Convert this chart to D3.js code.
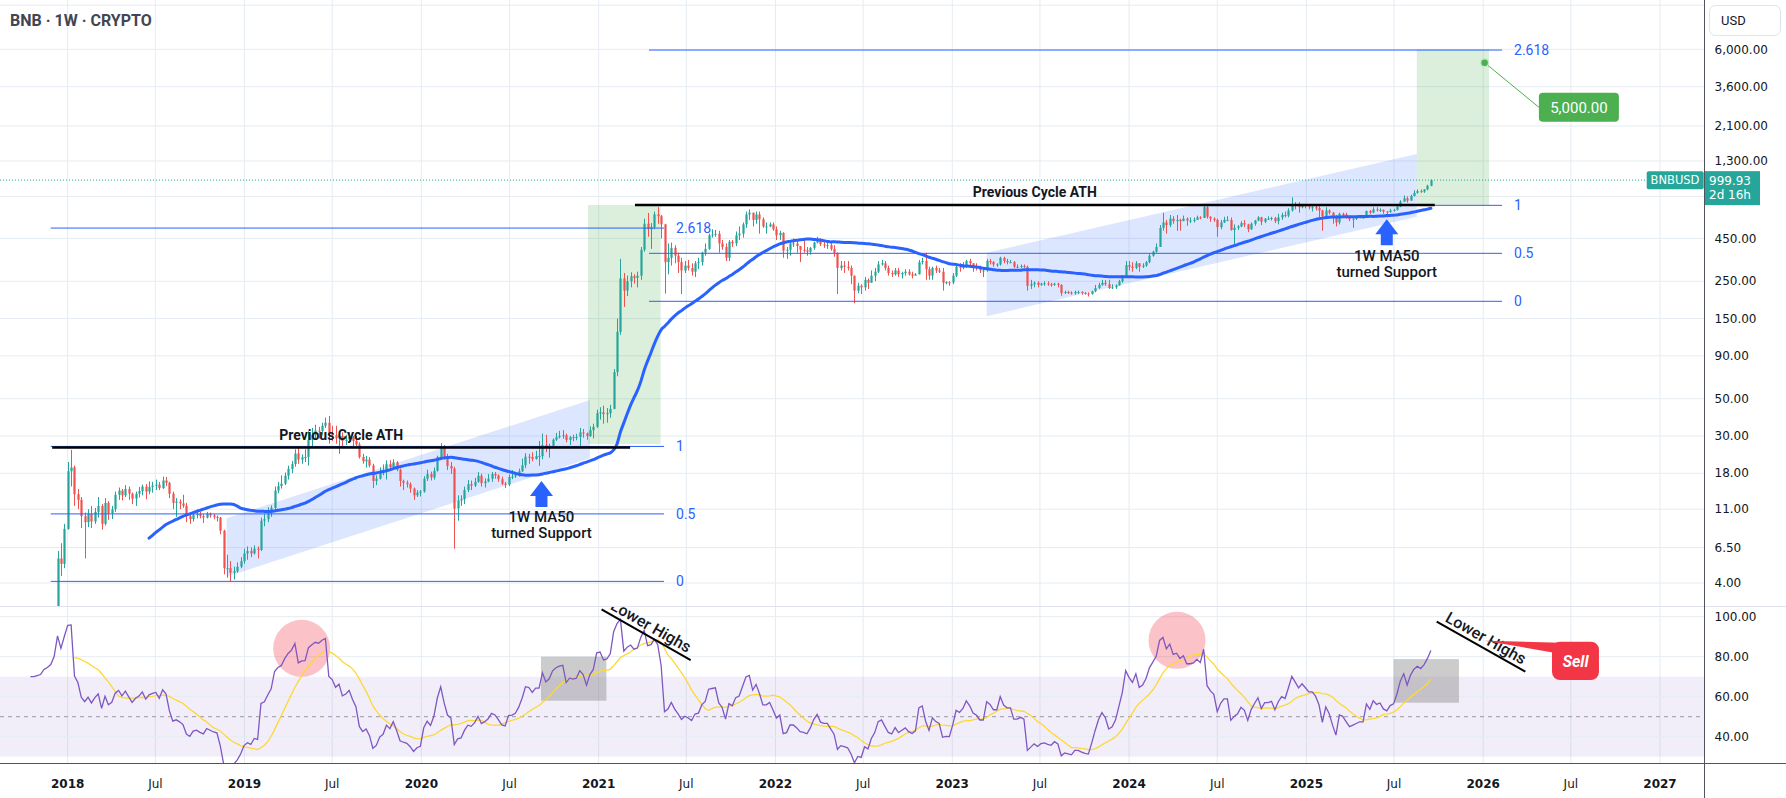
<!DOCTYPE html>
<html lang="en">
<head>
<meta charset="UTF-8" />
<title>BNB 1W</title>
<script src="https://d3js.org/d3.v7.min.js"></script>
<style>
  html, body { margin: 0; padding: 0; background: #ffffff; }
  svg { display: block; font-family: Roboto, "Noto Sans", sans-serif; }
  .ax { font-family: "DejaVu Sans", sans-serif; font-size: 12px; fill: #131722; }
</style>
</head>
<body>
<svg id="chart" width="1786" height="798"></svg>
<script>
// ---------- data (weekly bars, open = previous close) ----------
var firstWeek = "2017-07-10";
var firstOpen = 0.12;
var closes = [
  // 2017
  0.16,0.18,0.24,0.34,0.95,1.75,1.6,1.85,1.1,1.15,1.3,1.45,1.55,1.6,1.5,1.5,1.55,1.6,1.85,1.95,2.1,2.6,5.6,5.2,8.4,
  // 2018
  18.5,19.5,13.5,12.5,10.0,9.2,10.3,9.3,10.6,11.5,9.0,12.0,10.4,11.0,13.4,14.2,13.3,14.5,13.6,12.7,13.6,14.1,15.0,14.0,14.9,15.2,15.4,14.7,16.3,15.8,13.6,12.0,12.2,11.9,11.5,10.0,9.6,10.2,10.3,10.0,9.8,10.3,10.1,9.9,9.8,8.2,4.9,4.9,4.6,4.7,5.0,5.4,6.0,
  // 2019
  6.2,6.0,6.4,6.3,9.4,9.6,10.4,11.2,14.2,15.1,15.6,17.4,19.1,20.4,23.6,21.7,22.4,22.5,28.5,30.5,32.3,32.2,34.5,36.0,30.8,30.3,29.0,30.0,28.0,28.5,29.5,28.0,26.7,22.5,21.2,21.7,20.0,16.2,16.7,18.2,18.7,20.4,19.6,20.9,18.9,16.2,15.8,15.5,14.6,13.3,13.8,14.0,
  // 2020
  16.7,17.8,17.0,18.6,22.4,25.5,22.6,19.9,19.2,11.1,12.4,12.6,14.3,15.5,15.2,16.0,17.4,15.7,16.1,16.7,17.8,17.5,16.6,15.6,15.4,17.1,17.2,17.5,18.5,20.1,22.6,22.5,21.9,22.8,22.8,26.5,25.4,26.2,28.5,29.5,30.0,30.3,28.4,29.5,29.4,29.6,31.5,31.1,30.0,32.5,34.0,41.0,
  // 2021
  41.5,40.5,41,43.5,72,125,260,220,250,268,262,270,385,550,510,525,625,610,545,325,345,395,355,325,290,310,300,285,320,325,370,390,470,475,480,420,400,345,430,420,470,480,545,625,640,580,625,585,530,530,545,510,
  // 2022
  470,485,380,385,420,420,405,385,382,375,395,425,445,415,410,410,390,370,300,310,305,300,270,220,235,230,255,245,270,285,315,320,300,280,275,290,275,280,285,275,270,275,325,330,295,270,300,290,285,245,247,246,
  // 2023
  270,305,300,310,330,320,305,300,290,290,330,325,315,315,345,330,325,325,305,305,308,305,235,240,245,238,242,243,240,238,242,238,213,216,214,212,216,216,213,211,210,218,228,238,245,240,228,230,236,250,268,312,
  // 2024
  305,300,320,305,310,325,355,375,400,520,560,540,590,570,580,570,590,575,575,580,600,595,690,605,590,580,525,560,580,580,505,520,530,555,545,510,550,575,600,565,590,590,595,570,600,620,615,660,720,705,690,710,700,
  // 2025
  690,690,680,660,610,660,640,600,560,630,625,605,585,590,595,600,600,655,640,670,660,665,650,645,660,665,695,745,780,755,805,840,860,855,880,925,999.93
];
var highs = [
  0.2,0.22,0.27,0.4,1.1,2.1,1.95,2.0,1.9,1.3,1.4,1.6,1.7,1.75,1.7,1.6,1.65,1.7,1.95,2.1,2.3,2.9,6.2,6.9,9.0,
  21,24.8,20,14.5,13,10.5,11,11.5,11.2,13,11.8,12.8,12.3,11.5,14,14.8,14.5,15.3,15,13.8,14,14.9,15.4,15.5,16.1,16,16.5,16,17.2,17.1,16,14,12.8,12.6,13.4,12,10.2,10.7,11,10.6,10.3,10.6,10.5,10.3,10.1,9.9,8.3,5.9,5.4,5.0,5.3,5.7,6.4,
  6.6,6.5,6.7,6.6,9.8,10.3,11.3,11.6,15,16,17.5,18.2,20,21.3,25,25.4,23.3,25,32,33.5,35,34,36,38.6,39.5,34.5,34.5,32,31.5,30.5,31.6,30,30,27.5,23.5,22.8,22.5,20.5,17.5,19.5,20.3,21.5,21.5,21.8,21.3,19.2,16.5,16.3,15.9,14.8,14.3,14.3,
  17.3,18.9,18.4,19.5,22.9,27.2,26.5,23.5,21,19.7,13.3,13.3,15,16.4,16.3,16.9,18.3,17.9,16.8,17.8,18.3,18.3,17.7,17.2,16,17.7,18.8,18.2,19.2,22,23.7,23.5,24,24.5,28,31,30.5,27,29,31.3,32.2,32.5,31,30,30.5,30.9,33.5,33,31.5,34.2,35.5,43,
  44.5,45.5,44,46,75,150,340,280,270,283,275,285,400,590,638,555,650,690,620,550,420,425,410,370,345,330,335,320,330,345,375,420,480,510,505,500,440,420,440,440,495,530,560,650,670,640,650,650,600,560,560,560,
  530,500,490,400,430,450,440,400,440,400,400,430,460,450,430,425,425,410,370,330,330,330,310,270,245,240,265,260,290,300,330,335,330,310,290,300,300,285,295,295,285,280,335,345,370,305,305,310,300,300,250,250,
  280,310,320,325,335,340,315,320,310,300,340,340,330,320,350,350,340,335,330,315,315,315,310,255,250,250,245,250,250,245,245,245,240,220,220,218,220,220,218,216,215,220,238,245,255,255,255,240,240,255,272,330,
  330,325,330,320,320,330,365,380,420,540,640,580,620,610,620,590,615,600,600,600,615,610,720,700,610,600,590,580,605,610,600,545,540,570,580,550,560,580,610,605,595,610,605,605,630,640,650,680,790,740,740,720,720,
  720,720,720,700,665,690,670,645,620,640,640,640,610,600,605,615,610,660,665,690,690,680,670,655,675,675,705,760,810,800,820,870,880,880,885,940,1010
];
var lows = [
  0.1,0.14,0.17,0.23,0.33,0.9,1.4,1.5,0.85,0.9,1.1,1.25,1.4,1.45,1.4,1.35,1.4,1.45,1.55,1.8,1.8,2.0,2.5,4.4,4.9,
  8.3,15,11.5,11,8.5,5.6,8.6,8.5,9,9.8,8.3,8.8,9.5,9.6,10.6,12.5,12.4,13,12.5,11.8,11.5,12.9,13.3,12.6,13.5,13.8,14.3,14.3,14.5,15.1,12.8,11,9.9,11,11.2,9.2,9,9.3,9.7,9.7,9.1,9.7,9.8,9.6,9.3,7.8,4.5,4.3,4.1,4.2,4.6,4.9,5.2,
  5.5,5.7,5.9,5.6,6.2,8.7,9.2,9.9,10.8,13.7,14.6,15.3,16.5,18,19.7,20.5,20.5,21,20,26,28.5,29,30.5,33.5,27,28,27,23.5,26,26.5,27.5,26,26,22,20.5,19.5,19.5,14.7,15.3,16.5,17.5,16.5,19,19.5,18.5,15,14.3,14.8,13.8,12.5,13,13.1,
  13.8,16.2,16.3,16.5,18.4,21.6,21.7,18.8,17.8,6.4,9.4,11.5,11.8,13.9,14.3,14.9,15.8,15,14.8,15.9,16,16.7,16,15.3,14.7,15.1,16.6,16.9,17.2,18.3,19.3,20.5,21.2,21.7,19.9,21.8,24,22.3,26,28,29,28.9,27.5,26.5,27.9,28.3,26,29.3,28.5,29.6,29,33.5,
  37.5,35.5,36,38.5,43.3,68,120,176,204,230,242,230,255,375,460,390,510,550,450,211,275,310,320,280,210,280,290,270,265,295,310,355,385,455,460,370,385,330,330,400,405,440,455,520,580,530,550,480,520,480,525,500,
  440,440,345,340,355,400,370,325,370,355,360,385,420,405,395,390,380,350,210,290,280,290,240,185,212,210,220,225,245,250,280,310,290,270,265,270,265,260,270,270,260,270,275,315,255,255,255,280,280,220,240,235,
  240,265,285,295,300,300,285,290,280,265,285,315,305,305,310,320,315,320,300,300,300,300,220,225,230,230,235,235,235,232,235,230,205,210,210,208,208,210,208,208,203,208,215,225,235,235,225,225,225,235,245,265,
  290,285,295,285,300,305,320,350,370,400,500,480,525,550,500,500,570,535,555,560,580,585,595,590,565,565,460,510,555,570,500,400,505,525,525,490,505,535,570,540,555,580,575,555,545,580,600,600,650,670,640,680,680,
  670,650,660,600,500,590,625,550,530,545,605,590,570,520,580,595,590,595,630,635,650,645,630,600,640,650,660,690,740,735,755,800,830,840,840,870,920
];

var priceTicks = [4, 6.5, 11, 18, 30, 50, 90, 150, 250, 450, 800, 1300, 2100, 3600, 6000, 11000];
var priceTicksCovered = [800, 11000];   // labels hidden behind the price tag and the USD button
var rsiTicks = [100, 80, 60, 40];
var years = [2018, 2019, 2020, 2021, 2022, 2023, 2024, 2025, 2026, 2027];
var symbol = "BNBUSD";
var lastPrice = 999.93;
var countdown = "2d 16h";

// drawings on the chart (dates / prices / RSI values)
var fibLevels = [0, 0.5, 1, 2.618];
var fibs = [
  { from: "2017-11-27", to: "2021-05-16", p0: 4.09, p1: 26.0 },
  { from: "2021-04-15", to: "2026-02-09", p0: 190, p1: 708 }
];
var athLines = [
  { from: "2017-11-30", to: "2021-03-07", price: 25.6 },
  { from: "2021-03-17", to: "2025-09-23", price: 711 }
];
var greenBoxes = [
  { from: "2020-12-10", to: "2021-05-09", lo: 26.9, hi: 711 },
  { from: "2025-08-17", to: "2026-01-13", lo: 711, hi: 6000 }
];
var channels = [
  { from: "2018-11-25", to: "2020-12-14", upper: [9.71, 49.1], lower: [4.36, 22.1] },
  { from: "2023-03-13", to: "2025-08-17", upper: [370, 1431], lower: [155, 606] }
];
var supportArrows = [
  { date: "2020-09-05", price: 16.2 },
  { date: "2025-06-16", price: 585 }
];
var target = { date: "2026-01-04", price: 5000, labelDate: "2026-04-26", labelPrice: 2715, text: "5,000.00" };
var rsiCircles = [
  { date: "2019-04-29", value: 84.2 },
  { date: "2024-04-09", value: 88.2 }
];
var rsiBoxes = [
  { from: "2020-09-04", to: "2021-01-17", hi: 80, lo: 58 },
  { from: "2025-06-30", to: "2025-11-12", hi: 78.8, lo: 57 }
];
var lowerHighs = [
  { from: "2021-01-07", to: "2021-07-10", v0: 103.7, v1: 78.3 },
  { from: "2025-09-27", to: "2026-03-29", v0: 97.5, v1: 72.5 }
];
var sell = { tipDate: "2026-01-04", tipValue: 88, from: "2026-05-23", to: "2026-08-28", hi: 87.5, lo: 68.3 };

// ---------- layout ----------
var W = 1786, plotR = 1704, priceB = 606, rsiB = 763;
var UP = "#26a69a", DOWN = "#ef5350", BLUE = "#2962ff", GRID = "#e5ecf2";
var svg = d3.select("#chart");
var D = function (s) { return new Date(s); };

var x = d3.scaleUtc().domain([D("2018-01-01"), D("2027-01-01")]).range([67.7, 1660]);
var y = d3.scaleLog().domain([4, 6000]).range([583, 49.4]);
var yr = d3.scaleLinear().domain([40, 100]).range([736.7, 616.7]);

// bars and indicators
var t0 = Date.parse(firstWeek), WEEK = 7 * 864e5;
var bars = closes.map(function (c, i) {
  var o = i ? closes[i - 1] : firstOpen;
  return { date: new Date(t0 + i * WEEK), open: o, close: c,
    high: Math.max(highs[i], o, c), low: Math.min(lows[i], o, c) };
});
var ma50 = [];
for (var i = 49; i < bars.length; i++) {
  ma50.push({ date: bars[i].date, value: d3.mean(closes.slice(i - 49, i + 1)) });
}
// RSI 14 (Wilder) and its 14 SMA
var rsi = [], ag = 0, al = 0;
for (var k = 1; k < closes.length; k++) {
  var ch = closes[k] - closes[k - 1], g = ch > 0 ? ch : 0, l = ch < 0 ? -ch : 0;
  if (k <= 14) { ag += g / 14; al += l / 14; if (k < 14) continue; }
  else { ag = (ag * 13 + g) / 14; al = (al * 13 + l) / 14; }
  rsi.push({ date: bars[k].date, value: al === 0 ? 100 : 100 - 100 / (1 + ag / al) });
}
var rsiMa = [];
for (var j = 13; j < rsi.length; j++) {
  rsiMa.push({ date: rsi[j].date, value: d3.mean(rsi.slice(j - 13, j + 1), function (d) { return d.value; }) });
}

// clips
var defs = svg.append("defs");
defs.append("clipPath").attr("id", "cp").append("rect").attr("x", 0).attr("y", 0).attr("width", plotR).attr("height", priceB);
defs.append("clipPath").attr("id", "cr").append("rect").attr("x", 0).attr("y", priceB + 0.5).attr("width", plotR).attr("height", rsiB - priceB - 0.5);

// ---------- grid ----------
var timeTicks = [];
years.forEach(function (yy) {
  timeTicks.push({ d: new Date(Date.UTC(yy, 0, 1)), label: String(yy), major: true });
  if (yy < 2027) timeTicks.push({ d: new Date(Date.UTC(yy, 6, 1)), label: "Jul", major: false });
});
var grid = svg.append("g");
grid.selectAll(".vg").data(timeTicks).join("line")
  .attr("x1", function (d) { return x(d.d); }).attr("x2", function (d) { return x(d.d); })
  .attr("y1", 0).attr("y2", rsiB).attr("stroke", GRID);
grid.selectAll(".hg").data(priceTicks).join("line")
  .attr("x1", 0).attr("x2", plotR).attr("y1", function (d) { return y(d); }).attr("y2", function (d) { return y(d); })
  .attr("stroke", GRID);

// RSI pane background
var rp = svg.append("g").attr("clip-path", "url(#cr)");
rp.append("rect").attr("x", 0).attr("width", plotR).attr("y", yr(70)).attr("height", yr(30) - yr(70)).attr("fill", "rgba(126,87,194,0.1)");
rp.selectAll(".rg").data(rsiTicks).join("line")
  .attr("x1", 0).attr("x2", plotR).attr("y1", function (d) { return yr(d); }).attr("y2", function (d) { return yr(d); })
  .attr("stroke", GRID);
rp.append("line").attr("x1", 0).attr("x2", plotR).attr("y1", yr(50)).attr("y2", yr(50))
  .attr("stroke", "#9598a1").attr("stroke-dasharray", "4,4");

// ---------- price pane fills ----------
var pp = svg.append("g").attr("clip-path", "url(#cp)");
pp.selectAll(".ch").data(channels).join("polygon")
  .attr("points", function (c) {
    return [[x(D(c.from)), y(c.upper[0])], [x(D(c.to)), y(c.upper[1])], [x(D(c.to)), y(c.lower[1])], [x(D(c.from)), y(c.lower[0])]].join(" ");
  })
  .attr("fill", "rgba(41,98,255,0.16)");
pp.selectAll(".gb").data(greenBoxes).join("rect")
  .attr("x", function (b) { return x(D(b.from)); })
  .attr("width", function (b) { return x(D(b.to)) - x(D(b.from)); })
  .attr("y", function (b) { return y(b.hi); })
  .attr("height", function (b) { return y(b.lo) - y(b.hi); })
  .attr("fill", "rgba(76,175,80,0.2)");

// candles
var cg = pp.append("g");
cg.selectAll(".wk").data(bars).join("line")
  .attr("x1", function (d) { return Math.round(x(d.date)) + 0.5; })
  .attr("x2", function (d) { return Math.round(x(d.date)) + 0.5; })
  .attr("y1", function (d) { return y(d.high); }).attr("y2", function (d) { return y(d.low); })
  .attr("stroke", function (d) { return d.close >= d.open ? UP : DOWN; }).attr("stroke-width", 1);
cg.selectAll(".bd").data(bars).join("rect")
  .attr("x", function (d) { return Math.round(x(d.date)) - 0.6; })
  .attr("width", 2.2)
  .attr("y", function (d) { return y(Math.max(d.open, d.close)); })
  .attr("height", function (d) { return Math.max(1, y(Math.min(d.open, d.close)) - y(Math.max(d.open, d.close))); })
  .attr("fill", function (d) { return d.close >= d.open ? UP : DOWN; });

// MA50
pp.append("path").datum(ma50)
  .attr("d", d3.line().curve(d3.curveMonotoneX).x(function (d) { return x(d.date); }).y(function (d) { return y(d.value); }))
  .attr("fill", "none").attr("stroke", BLUE).attr("stroke-width", 3).attr("stroke-linecap", "round");

// fib retracements
fibs.forEach(function (f) {
  fibLevels.forEach(function (lv) {
    var p = f.p0 * Math.pow(f.p1 / f.p0, lv), yy = y(p);
    pp.append("line").attr("x1", x(D(f.from))).attr("x2", x(D(f.to))).attr("y1", yy).attr("y2", yy)
      .attr("stroke", BLUE).attr("stroke-width", 1);
    pp.append("text").attr("x", x(D(f.to)) + 12).attr("y", yy).attr("dy", "0.35em")
      .attr("font-size", 14).attr("fill", BLUE).text(String(lv));
  });
});

// previous ATH lines
athLines.forEach(function (a) {
  var x1 = x(D(a.from)), x2 = x(D(a.to)), yy = y(a.price);
  pp.append("line").attr("x1", x1).attr("x2", x2).attr("y1", yy).attr("y2", yy)
    .attr("stroke", "#000").attr("stroke-width", 2.5);
  pp.append("text").attr("x", (x1 + x2) / 2).attr("y", yy - 8).attr("text-anchor", "middle")
    .attr("font-size", 14).attr("font-weight", "bold").attr("fill", "#131722").text("Previous Cycle ATH");
});

// MA50 support arrows
supportArrows.forEach(function (a) {
  var tx = x(D(a.date)), ty = y(a.price);
  pp.append("path")
    .attr("d", "M" + tx + "," + ty + "l11.5,15h-5.5v11h-12v-11h-5.5z")
    .attr("fill", BLUE);
  pp.append("text").attr("x", tx).attr("y", ty + 36).attr("dy", "0.35em").attr("text-anchor", "middle")
    .attr("font-size", 15).attr("font-weight", 500).attr("fill", "#131722").text("1W MA50");
  pp.append("text").attr("x", tx).attr("y", ty + 52).attr("dy", "0.35em").attr("text-anchor", "middle")
    .attr("font-size", 15).attr("font-weight", 500).attr("fill", "#131722").text("turned Support");
});

// target label
(function () {
  var px = x(D(target.date)), py = y(target.price);
  var lx = x(D(target.labelDate)), ly = y(target.labelPrice);
  pp.append("line").attr("x1", px).attr("y1", py).attr("x2", lx).attr("y2", ly).attr("stroke", "#4caf50").attr("stroke-width", 1);
  pp.append("circle").attr("cx", px).attr("cy", py).attr("r", 4).attr("fill", "#4caf50").attr("stroke", "#c8e6c9").attr("stroke-width", 1.5);
  pp.append("rect").attr("x", lx).attr("y", ly - 14.5).attr("width", 80).attr("height", 29).attr("rx", 4).attr("fill", "#4caf50");
  pp.append("text").attr("x", lx + 40).attr("y", ly).attr("dy", "0.36em").attr("text-anchor", "middle")
    .attr("font-size", 15).attr("fill", "#fff").text(target.text);
})();

// ---------- RSI pane ----------
rp.selectAll(".pc").data(rsiCircles).join("circle")
  .attr("cx", function (d) { return x(D(d.date)); }).attr("cy", function (d) { return yr(d.value); })
  .attr("r", 28.5).attr("fill", "rgba(242,54,69,0.3)");
rp.selectAll(".gx").data(rsiBoxes).join("rect")
  .attr("x", function (b) { return x(D(b.from)); })
  .attr("width", function (b) { return x(D(b.to)) - x(D(b.from)); })
  .attr("y", function (b) { return yr(b.hi); })
  .attr("height", function (b) { return yr(b.lo) - yr(b.hi); })
  .attr("fill", "rgba(128,128,128,0.4)");
rp.append("path").datum(rsiMa)
  .attr("d", d3.line().x(function (d) { return x(d.date); }).y(function (d) { return yr(d.value); }))
  .attr("fill", "none").attr("stroke", "#fdd835").attr("stroke-width", 1.3);
rp.append("path").datum(rsi)
  .attr("d", d3.line().x(function (d) { return x(d.date); }).y(function (d) { return yr(d.value); }))
  .attr("fill", "none").attr("stroke", "#7e57c2").attr("stroke-width", 1.3);

lowerHighs.forEach(function (h) {
  var x1 = x(D(h.from)), y1 = yr(h.v0), x2 = x(D(h.to)), y2 = yr(h.v1);
  var dx = x2 - x1, dy = y2 - y1, len = Math.sqrt(dx * dx + dy * dy);
  var cx = (x1 + x2) / 2 + 10 * dy / len, cy = (y1 + y2) / 2 - 10 * dx / len;
  rp.append("line").attr("x1", x1).attr("y1", y1).attr("x2", x2).attr("y2", y2).attr("stroke", "#000").attr("stroke-width", 2);
  rp.append("text").attr("transform", "translate(" + cx + "," + cy + ") rotate(" + (Math.atan2(dy, dx) * 180 / Math.PI) + ")")
    .attr("text-anchor", "middle").attr("dy", "0.35em").attr("font-size", 16).attr("font-weight", 500).attr("fill", "#131722").text("Lower Highs");
});

(function () {
  var tx = x(D(sell.tipDate)), ty = yr(sell.tipValue);
  var bx = x(D(sell.from)), bx2 = x(D(sell.to)), by = yr(sell.hi), by2 = yr(sell.lo);
  rp.append("path").attr("d", "M" + tx + "," + ty + "L" + (bx + 8) + "," + (by + 1) + "L" + (bx + 8) + "," + (by + 12) + "Z").attr("fill", "#f23645");
  rp.append("rect").attr("x", bx).attr("y", by).attr("width", bx2 - bx).attr("height", by2 - by).attr("rx", 8).attr("fill", "#f23645");
  rp.append("text").attr("x", (bx + bx2) / 2).attr("y", (by + by2) / 2).attr("dy", "0.36em").attr("text-anchor", "middle")
    .attr("font-size", 16).attr("font-weight", "bold").attr("font-style", "italic").attr("fill", "#fff").text("Sell");
})();

// ---------- last price line ----------
svg.append("line").attr("x1", 0).attr("x2", plotR).attr("y1", y(lastPrice)).attr("y2", y(lastPrice))
  .attr("stroke", UP).attr("stroke-width", 1).attr("stroke-dasharray", "1,2");

// ---------- axes ----------
svg.append("line").attr("x1", 0).attr("x2", W).attr("y1", priceB + 0.5).attr("y2", priceB + 0.5).attr("stroke", "#e0e3eb");
svg.append("line").attr("x1", 0).attr("x2", W).attr("y1", rsiB + 0.5).attr("y2", rsiB + 0.5).attr("stroke", "#50535e");
svg.append("line").attr("x1", plotR + 0.5).attr("x2", plotR + 0.5).attr("y1", 0).attr("y2", 798).attr("stroke", "#50535e");

var fmt = d3.format(",.2f");
svg.append("g").selectAll("text")
  .data(priceTicks.filter(function (p) { return priceTicksCovered.indexOf(p) < 0; }))
  .join("text").attr("class", "ax")
  .attr("x", 1714.5).attr("y", function (d) { return y(d); }).attr("dy", "0.35em").text(function (d) { return fmt(d); });
svg.append("g").selectAll("text").data(rsiTicks).join("text").attr("class", "ax")
  .attr("x", 1714.5).attr("y", function (d) { return yr(d); }).attr("dy", "0.35em").text(function (d) { return fmt(d); });
svg.append("g").selectAll("text").data(timeTicks).join("text").attr("class", "ax")
  .attr("x", function (d) { return x(d.d); }).attr("y", 784).attr("dy", "0.35em").attr("text-anchor", "middle")
  .attr("font-weight", function (d) { return d.major ? "bold" : "normal"; })
  .text(function (d) { return d.label; });

// last price labels
(function () {
  var ly = y(lastPrice);
  svg.append("rect").attr("x", 1646.7).attr("y", ly - 9).attr("width", 57).attr("height", 18).attr("rx", 2).attr("fill", UP);
  svg.append("text").attr("class", "ax").attr("x", 1675).attr("y", ly).attr("dy", "0.36em").attr("text-anchor", "middle")
    .style("font-size", "11.5px").style("fill", "#fff").text(symbol);
  svg.append("rect").attr("x", 1705).attr("y", ly - 9).attr("width", 55).attr("height", 34).attr("fill", UP);
  svg.append("text").attr("class", "ax").attr("x", 1709).attr("y", ly + 0.5).attr("dy", "0.36em").style("fill", "#fff").text(d3.format(".2f")(lastPrice));
  svg.append("text").attr("class", "ax").attr("x", 1709).attr("y", ly + 15).attr("dy", "0.36em").style("fill", "#fff").text(countdown);
})();

// currency button
svg.append("rect").attr("x", 1709.5).attr("y", 5.5).attr("width", 71).attr("height", 30).attr("rx", 6)
  .attr("fill", "#fff").attr("stroke", "#e0e3eb");
svg.append("text").attr("x", 1721).attr("y", 20.5).attr("dy", "0.36em").attr("font-size", 13).attr("fill", "#131722").text("USD");

// title
svg.append("text").attr("x", 10).attr("y", 20.5).attr("dy", "0.36em").attr("font-size", 16).attr("font-weight", "bold")
  .attr("fill", "#434651").text("BNB · 1W · CRYPTO");
</script>
</body>
</html>
